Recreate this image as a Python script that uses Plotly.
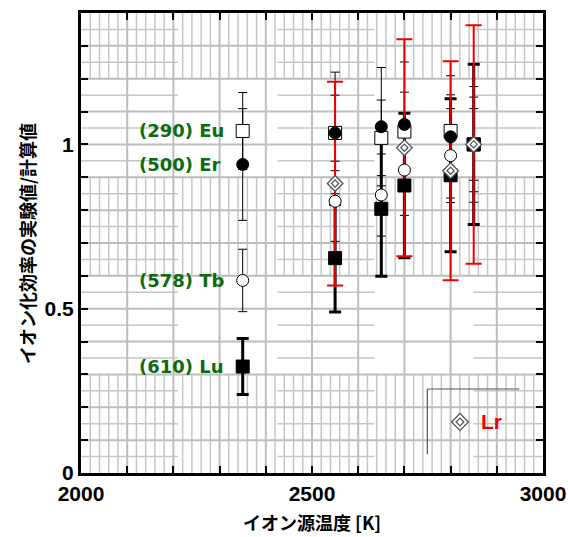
import plotly.graph_objects as go

# ---------------- data ----------------
ref_temp = 2350
ref_labels = ["(290) Eu", "(500) Er", "(578) Tb", "(610) Lu"]
ref_vals = [1.041, 0.939, 0.586, 0.324]
ref_errs = [0.117, 0.170, 0.095, 0.085]

temps = [2550, 2650, 2700, 2800, 2850]
eu_vals = [1.035, 1.020, 1.039, 1.041, 1.000]
eu_errs = [0.115, 0.115, 0.120, 0.110, 0.109]
er_vals = [1.035, 1.054, 1.061, 1.023, 1.000]
er_errs = [0.185, 0.180, 0.190, 0.186, 0.176]
tb_vals = [0.827, 0.846, 0.922, 0.966, 1.000]
tb_errs = [0.122, 0.125, 0.138, 0.143, 0.144]
lu_vals = [0.654, 0.804, 0.875, 0.906, 1.000]
lu_errs = [0.164, 0.205, 0.220, 0.233, 0.244]
lr_temps = [2550, 2700, 2800, 2850]
lr_vals = [0.881, 0.990, 0.920, 1.000]
lr_errs = [0.310, 0.330, 0.333, 0.363]

x_ticks = [2000, 2500, 3000]
y_ticks = [0, 0.5, 1]

X0, X1 = 2000, 3000
Y0, Y1 = 0, 1.4

GREEN = "#0e6b0e"
RED = "#ee0000"
GRAY_M = "#bdbdbd"
GRAY_m = "#c6c6c6"

fig = go.Figure()

# ---------------- background graph-paper grid ----------------
shapes = []
bands = [(0.0, 0.3), (0.6, 0.9), (1.2, 1.4)]
for (b0, b1) in bands:
    for xv in range(X0 + 20, X1, 20):
        if xv % 100 == 0:
            continue
        shapes.append(dict(type="line", xref="x", yref="y", x0=xv, x1=xv, y0=b0, y1=b1,
                           line=dict(color=GRAY_m, width=1.5), layer="below"))
segs = [(2000, 2210), (2425, 2635), (2850, 3000)]
for k in range(14):
    yv = 0.05 + 0.1 * k
    if yv >= Y1:
        continue
    for (s0, s1) in segs:
        shapes.append(dict(type="line", xref="x", yref="y", x0=s0, x1=s1, y0=yv, y1=yv,
                           line=dict(color=GRAY_m, width=1.5), layer="below"))
for k in range(1, 14):
    yv = 0.1 * k
    shapes.append(dict(type="line", xref="x", yref="y", x0=X0, x1=X1, y0=yv, y1=yv,
                       line=dict(color=GRAY_M, width=2), layer="below"))
for xv in range(X0 + 100, X1, 100):
    shapes.append(dict(type="line", xref="x", yref="y", x0=xv, x1=xv, y0=Y0, y1=Y1,
                       line=dict(color=GRAY_M, width=2), layer="below"))

# legend bracket (paper coords)
shapes.append(dict(type="line", xref="paper", yref="paper", x0=0.7496, x1=0.7496, y0=0.0407, y1=0.1826,
                   line=dict(color="#555555", width=1.2)))
shapes.append(dict(type="line", xref="paper", yref="paper", x0=0.7496, x1=0.9487, y0=0.1826, y1=0.1826,
                   line=dict(color="#555555", width=1.2)))

# ---------------- series ----------------
series = [
    ("Tb", [ref_temp] + temps, [ref_vals[2]] + tb_vals, [ref_errs[2]] + tb_errs,
     dict(symbol="circle", size=12, color="white", line=dict(color="black", width=1)),
     dict(color="black", thickness=1, width=4.5)),
    ("Eu", [ref_temp] + temps, [ref_vals[0]] + eu_vals, [ref_errs[0]] + eu_errs,
     dict(symbol="square", size=13, color="white", line=dict(color="black", width=1)),
     dict(color="black", thickness=1, width=4.5)),
    ("Er", [ref_temp] + temps, [ref_vals[1]] + er_vals, [ref_errs[1]] + er_errs,
     dict(symbol="circle", size=12, color="black", line=dict(color="black", width=1)),
     dict(color="black", thickness=1, width=4.5)),
    ("Lu", [ref_temp] + temps, [ref_vals[3]] + lu_vals, [ref_errs[3]] + lu_errs,
     dict(symbol="square", size=13, color="black", line=dict(color="black", width=1)),
     dict(color="black", thickness=3, width=6)),
    ("Lr", lr_temps, lr_vals, lr_errs,
     dict(symbol="diamond", size=12, color="white", line=dict(color="#555555", width=1.3)),
     dict(color=RED, thickness=2, width=8)),
]

for name, xs, ys, es, mk, eb in series:
    fig.add_trace(go.Scatter(
        x=xs, y=ys, mode="markers", showlegend=False, hoverinfo="skip",
        marker=dict(size=1, color="rgba(0,0,0,0)"),
        error_y=dict(type="data", array=es, visible=True, **eb)))
for name, xs, ys, es, mk, eb in series:
    fig.add_trace(go.Scatter(x=xs, y=ys, mode="markers", name=name, marker=mk, showlegend=False))
fig.add_trace(go.Scatter(x=lr_temps, y=lr_vals, mode="markers", showlegend=False,
                         marker=dict(symbol="diamond", size=5.5, color="white",
                                     line=dict(color="#555555", width=1.2))))

# legend symbol on overlay axes
fig.add_trace(go.Scatter(x=[0.8203], y=[0.1109], xaxis="x2", yaxis="y2", mode="markers",
                         showlegend=False,
                         marker=dict(symbol="diamond", size=13, color="white",
                                     line=dict(color="#555555", width=1.3))))
fig.add_trace(go.Scatter(x=[0.8203], y=[0.1109], xaxis="x2", yaxis="y2", mode="markers",
                         showlegend=False,
                         marker=dict(symbol="diamond", size=6, color="white",
                                     line=dict(color="#555555", width=1.2))))

# ---------------- annotations ----------------
annotations = []
for lab, v in zip(ref_labels, ref_vals):
    annotations.append(dict(x=2121, y=v, xref="x", yref="y", text=lab, showarrow=False,
                            xanchor="left", yanchor="middle",
                            font=dict(family="DejaVu Sans", size=18, color=GREEN, weight="bold")))
annotations.append(dict(x=0.862, y=0.1109, xref="paper", yref="paper", text="Lr", showarrow=False,
                        xanchor="left", yanchor="middle",
                        font=dict(family="Liberation Sans", size=21, color=RED, weight="bold")))
annotations.append(dict(x=0.5, y=-0.1065, xref="paper", yref="paper", text="イオン源温度 [K]",
                        showarrow=False, xanchor="center", yanchor="middle",
                        font=dict(family="Noto Sans CJK JP", size=18, color="black", weight="bold")))
annotations.append(dict(x=-0.1169, y=0.5, xref="paper", yref="paper", text="イオン化効率の実験値/計算値",
                        showarrow=False, xanchor="center", yanchor="middle", textangle=-90,
                        font=dict(family="Noto Sans CJK JP", size=18, color="black", weight="bold")))

tickfont = dict(family="Liberation Sans", size=21, color="black", weight="bold")
fig.update_layout(
    width=568, height=537,
    margin=dict(l=81, r=25, t=13, b=64),
    plot_bgcolor="white", paper_bgcolor="white",
    showlegend=False,
    shapes=shapes,
    annotations=annotations,
    xaxis=dict(range=[X0, X1], tickmode="array", tickvals=x_ticks, ticktext=[str(t) for t in x_ticks],
               ticks="inside", ticklen=7, tickwidth=1.5, tickcolor="black",
               minor=dict(tickmode="linear", tick0=2000, dtick=100, ticks="inside", ticklen=7,
                          tickwidth=1.5, tickcolor="black", showgrid=False),
               showline=True, linewidth=3, linecolor="black", mirror="ticks",
               showgrid=False, zeroline=False, tickfont=tickfont, automargin=False),
    yaxis=dict(range=[Y0, Y1], tickmode="array", tickvals=y_ticks, ticktext=["0", "0.5", "1"],
               ticks="inside", ticklen=7, tickwidth=1.5, tickcolor="black",
               minor=dict(tickmode="linear", tick0=0, dtick=0.1, ticks="inside", ticklen=7,
                          tickwidth=1.5, tickcolor="black", showgrid=False),
               showline=True, linewidth=3, linecolor="black", mirror="ticks",
               showgrid=False, zeroline=False, tickfont=tickfont, automargin=False),
    xaxis2=dict(range=[0, 1], overlaying="x", visible=False),
    yaxis2=dict(range=[0, 1], overlaying="y", visible=False),
)

fig.write_html("out.html")
